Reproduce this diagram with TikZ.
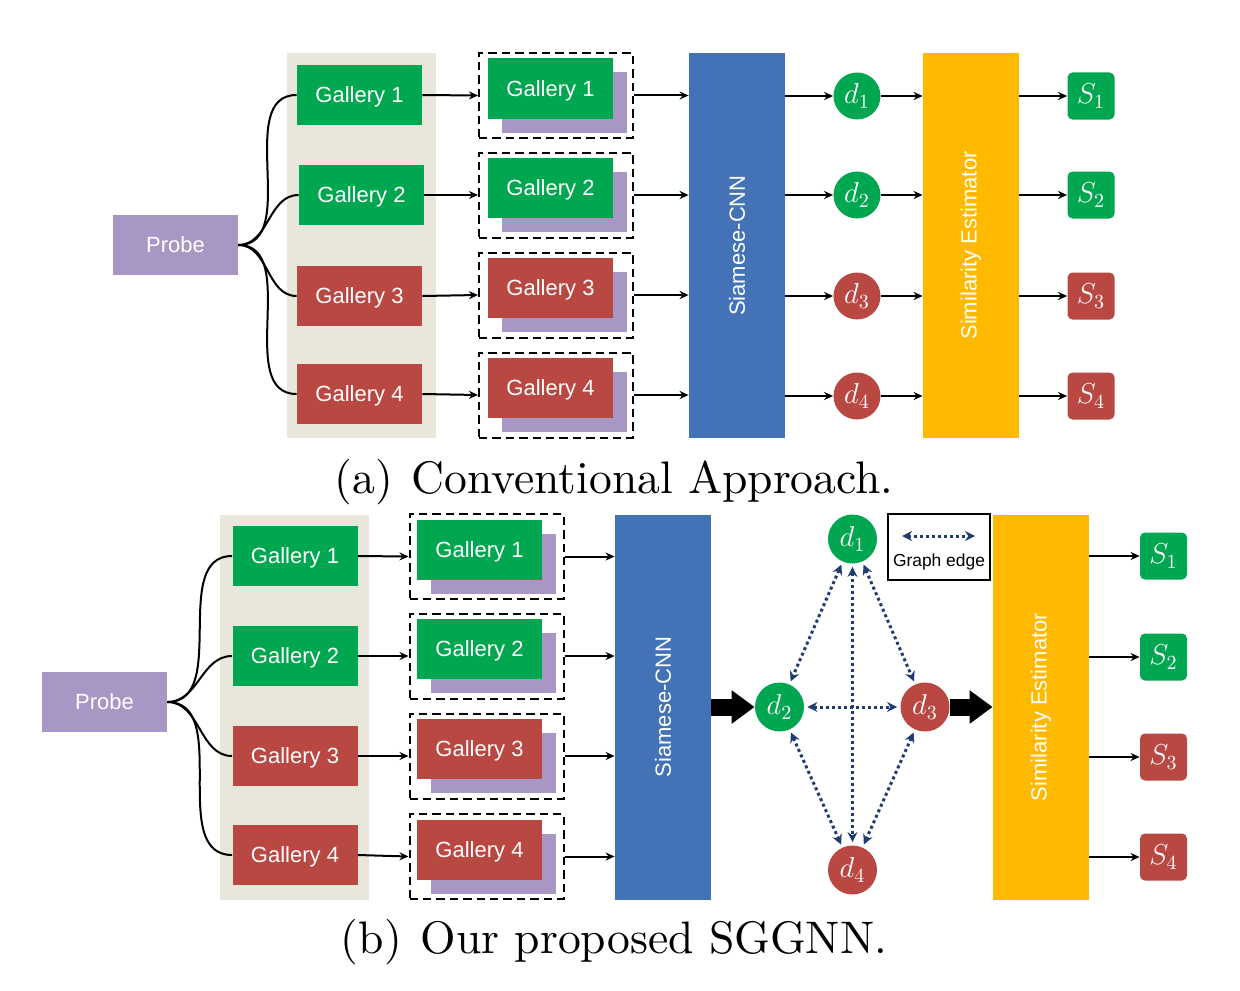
\documentclass[tikz,border=0pt]{standalone}
\usepackage{fontspec}
\newfontfamily\boxfont{Liberation Sans}
\newfontfamily\capfont[Extension=.otf]{lmroman10-regular}
\usetikzlibrary{arrows.meta}

\definecolor{galgreen}{RGB}{0,166,80}
\definecolor{galred}{RGB}{185,71,66}
\definecolor{probepurple}{RGB}{168,150,196}
\definecolor{panelbeige}{RGB}{233,230,219}
\definecolor{cnnblue}{RGB}{67,115,182}
\definecolor{estorange}{RGB}{255,185,0}
\definecolor{edgenavy}{RGB}{32,60,112}

\begin{document}
\begin{tikzpicture}[x=0.5pt,y=-0.5pt,
  box/.style={draw=none, inner sep=0pt, minimum width=62.5pt, minimum height=30pt, text depth=0pt,
    font=\boxfont\fontsize{11}{13}\selectfont, text=white},
  panel/.style={draw=none, fill=panelbeige, inner sep=0pt, minimum width=74.5pt, minimum height=192.5pt},
  tallbar/.style={draw=none, inner sep=0pt, minimum width=48pt, minimum height=192.5pt,
    font=\boxfont\fontsize{11}{13}\selectfont, text=white},
  pairbox/.style={draw=black, line width=1pt, dash pattern=on 4.2pt off 2.5pt, inner sep=0pt,
    minimum width=77pt, minimum height=42.5pt},
  shadowbox/.style={draw=none, fill=probepurple, inner sep=0pt, minimum width=62.5pt, minimum height=30pt},
  dnode/.style={circle, draw=none, inner sep=0pt, minimum size=23.5pt, text=white,
    font=\fontsize{14}{16}\selectfont},
  snode/.style={rectangle, rounded corners=2.5pt, draw=none, inner sep=0pt, minimum size=23.5pt,
    text=white, font=\fontsize{14}{16}\selectfont},
  conn/.style={line width=1pt, -{Stealth[length=4.5pt,width=4pt]}},
  probeline/.style={line width=1pt},
  gedge/.style={draw=edgenavy, line width=1.5pt, dash pattern=on 1.5pt off 1.5pt,
    {Stealth[length=5pt,width=5pt]}-{Stealth[length=5pt,width=5pt]}, shorten >=1.5pt, shorten <=1.5pt},
  bigarrow/.style={line width=8.5pt, -{Triangle[length=11.5pt,width=16pt]}},
  caption/.style={font=\capfont\fontsize{22.8}{26}\selectfont}
]
\useasboundingbox (0,0) rectangle (1240,990);

% ---------------- (a) conventional pipeline ----------------
\node[panel] (bgA) at (361.5,245.5) {};
\node[box, fill=probepurple] (pA) at (175.5,245) {Probe};
\foreach \i/\x/\y/\c in {1/359.5/95/galgreen, 2/361.5/195/galgreen, 3/359.5/296/galred, 4/359.5/394/galred}
  \node[box, fill=\c] (gA\i) at (\x,\y) {Gallery \i};
\foreach \i/\y/\c in {1/95.5/galgreen, 2/195/galgreen, 3/295/galred, 4/395/galred}{
  \node[pairbox] (pbA\i) at (556,\y) {};
  \node[shadowbox] (shA\i) at (564.5,\y+7) {};
  \node[box, fill=\c] (igA\i) at (550.5,\y-7) {Gallery \i};
}
\node[tallbar, fill=cnnblue] (cnnA) at (737,245.5) {\rotatebox{90}{Siamese-CNN}};
\node[tallbar, fill=estorange] (seA) at (971,245.5) {\rotatebox{90}{Similarity Estimator}};
\foreach \i/\y/\c in {1/96/galgreen, 2/195/galgreen, 3/296/galred, 4/396/galred}{
  \node[dnode, fill=\c] (dA\i) at (857,\y) {$d_{\i}$};
  \node[snode, fill=\c] (sA\i) at (1091,\y) {$S_{\i}$};
}
\foreach \i in {1,...,4}{
  \draw[probeline] (pA.east) to[out=0,in=180] (gA\i.west);
  \draw[conn] (gA\i.east) -- (pbA\i.west);
  \draw[conn] (pbA\i.east) -- (cnnA.west |- pbA\i.east);
  \draw[conn] (cnnA.east |- dA\i) -- (dA\i.west);
  \draw[conn] (dA\i.east) -- (seA.west |- dA\i);
  \draw[conn] (seA.east |- sA\i) -- (sA\i.west);
}
\node[caption] (capA) at (614,482) {(a)\hspace{0.42em}Conventional Approach.};

% ---------------- (b) SGGNN pipeline ----------------
\node[panel] (bgB) at (294.5,707) {};
\node[box, fill=probepurple] (pB) at (104.5,702) {Probe};
\foreach \i/\y/\c in {1/556/galgreen, 2/656/galgreen, 3/756/galred, 4/855/galred}
  \node[box, fill=\c] (gB\i) at (295,\y) {Gallery \i};
\foreach \i/\y/\c in {1/556.5/galgreen, 2/656/galgreen, 3/756/galred, 4/856.5/galred}{
  \node[pairbox] (pbB\i) at (486.5,\y) {};
  \node[shadowbox] (shB\i) at (493.5,\y+7) {};
  \node[box, fill=\c] (igB\i) at (479.5,\y-7) {Gallery \i};
}
\node[tallbar, fill=cnnblue] (cnnB) at (663,707) {\rotatebox{90}{Siamese-CNN}};
\node[tallbar, fill=estorange] (seB) at (1041,707) {\rotatebox{90}{Similarity Estimator}};
\foreach \i/\y/\c in {1/556/galgreen, 2/657/galgreen, 3/757/galred, 4/857/galred}
  \node[snode, fill=\c] (sB\i) at (1163.5,\y) {$S_{\i}$};
\foreach \i in {1,...,4}{
  \draw[probeline] (pB.east) to[out=0,in=180] (gB\i.west);
  \draw[conn] (gB\i.east) -- (pbB\i.west);
  \draw[conn] (pbB\i.east) -- (cnnB.west |- pbB\i.east);
  \draw[conn] (seB.east |- sB\i) -- (sB\i.west);
}

% similarity graph
\node[dnode, fill=galgreen, minimum size=24.5pt] (dB1) at (852.5,539) {$d_1$};
\node[dnode, fill=galgreen, minimum size=24.5pt] (dB2) at (779.5,707) {$d_2$};
\node[dnode, fill=galred, minimum size=24.5pt] (dB3) at (925,707) {$d_3$};
\node[dnode, fill=galred, minimum size=24.5pt] (dB4) at (852.5,870) {$d_4$};
\draw[gedge] (dB1) -- (dB2);
\draw[gedge] (dB1) -- (dB3);
\draw[gedge] (dB1) -- (dB4);
\draw[gedge] (dB2) -- (dB3);
\draw[gedge] (dB2) -- (dB4);
\draw[gedge] (dB3) -- (dB4);

\draw[bigarrow] (cnnB.east |- dB2) -- (dB2.west);
\draw[bigarrow] (dB3.east) -- (seB.west |- dB3);

% legend
\node[draw=black, line width=0.7pt, inner sep=0pt, minimum width=51pt, minimum height=33pt] (leg) at (939,547) {};
\node[font=\boxfont\fontsize{8.7}{10}\selectfont, inner sep=0pt] (legtxt) at (939,562) {Graph edge};
\coordinate (legL) at (902,536);
\coordinate (legR) at (975,536);
\draw[gedge, shorten >=0pt, shorten <=0pt] (legL) -- (legR);

\node[caption] (capB) at (614,942) {(b)\hspace{0.42em}Our proposed SGGNN.};
\end{tikzpicture}
\end{document}
